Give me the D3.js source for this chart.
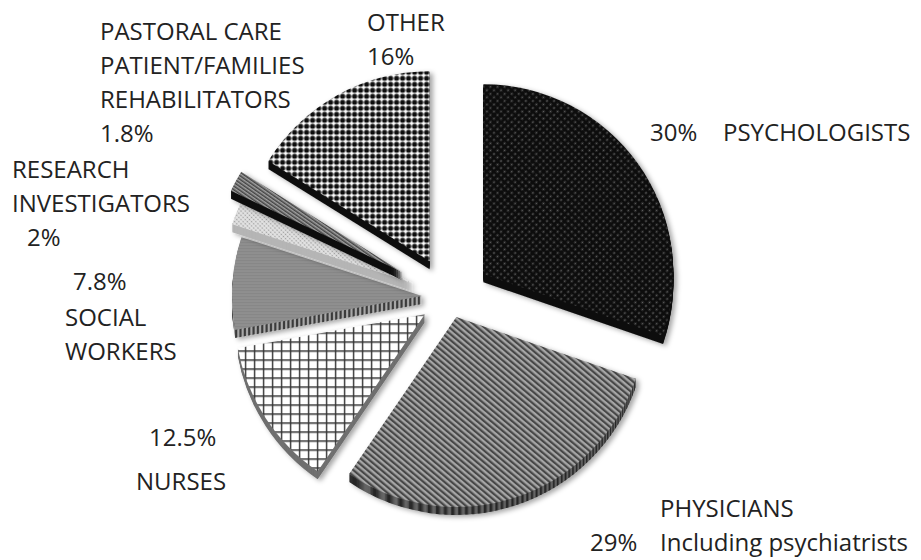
<html>
<style>
    body {
      margin: 0;
      background: #fff;
    }
    text {
      font: 24px "Open Sans", sans-serif;
      fill: #222;
    }
</style>
<body>
<script src="https://d3js.org/d3.v7.min.js"></script>
<script>
// data, clockwise from 12 o'clock
const categories = ["PSYCHOLOGISTS", "PHYSICIANS", "NURSES", "SOCIAL WORKERS",
                    "RESEARCH INVESTIGATORS", "PASTORAL CARE", "OTHER"]
const shares = [30, 29, 12.5, 7.8, 2, 1.8, 16]
const shareLabels = ["30%", "29%", "12.5%", "7.8%", "2%", "1.8%", "16%"]

// label blocks (text is placed by hand in the original chart)
const labelBlocks = [
    {lines: ["OTHER", shareLabels[6]], x: 367, y: 31},
    {lines: ["PASTORAL CARE", "PATIENT/FAMILIES", "REHABILITATORS", shareLabels[5]], x: 100, y: 40},
    {lines: ["RESEARCH", "INVESTIGATORS"], x: 12, y: 178},
    {lines: [shareLabels[4]], x: 27, y: 246},
    {lines: [shareLabels[0]], x: 650, y: 141},
    {lines: [categories[0]], x: 723, y: 141},
    {lines: [shareLabels[3]], x: 73, y: 290},
    {lines: ["SOCIAL", "WORKERS"], x: 65, y: 326},
    {lines: [shareLabels[2]], x: 149, y: 446},
    {lines: [categories[2]], x: 136, y: 490},
    {lines: ["PHYSICIANS", "Including psychiatrists"], x: 660, y: 517},
    {lines: [shareLabels[1]], x: 590, y: 551}
]

const width = 921, height = 560
const center = {x: 450, y: 298}, radius = 190, depth = 8, lineStep = 34
const explode = [41, 20, 30, 28, 40, 54, 42]
const faceFill = ["url(#psy)", "url(#phy)", "url(#nur)", "url(#soc)", "url(#res)", "url(#pas)", "url(#oth)"]
const wallFill = ["#0c0c0c", "url(#phyWall)", "#6f6f6f", "url(#socWall)", "#b5b5b5", "#111", "#111"]

const svg = d3.select("body").append("svg")
    .attr("width", width)
    .attr("height", height)

const defs = svg.append("defs")

const pattern = (id, w, h, transform) => defs.append("pattern")
    .attr("id", id)
    .attr("patternUnits", "userSpaceOnUse")
    .attr("width", w)
    .attr("height", h)
    .attr("patternTransform", transform || null)

let p = pattern("psy", 5, 5, "rotate(45)")
p.append("rect").attr("width", 5).attr("height", 5).attr("fill", "#101010")
p.append("circle").attr("cx", 2.5).attr("cy", 2.5).attr("r", 0.9).attr("fill", "#5e5e5e")

p = pattern("phy", 4.5, 4.5, "rotate(-50)")
p.append("rect").attr("width", 4.5).attr("height", 4.5).attr("fill", "#a6a6a6")
p.append("rect").attr("width", 2.2).attr("height", 4.5).attr("fill", "#474747")

p = pattern("phyWall", 4.5, 4.5, "rotate(-50)")
p.append("rect").attr("width", 4.5).attr("height", 4.5).attr("fill", "#666")
p.append("rect").attr("width", 2.2).attr("height", 4.5).attr("fill", "#262626")

p = pattern("nur", 9, 9)
p.append("rect").attr("width", 9).attr("height", 9).attr("fill", "#fff")
p.append("path").attr("d", "M0,0.7H9M0.7,0V9").attr("stroke", "#333").attr("stroke-width", 1.4)

p = pattern("soc", 3, 3)
p.append("rect").attr("width", 3).attr("height", 3).attr("fill", "#8f8f8f")
p.append("rect").attr("width", 3).attr("height", 1).attr("fill", "#868686")

p = pattern("socWall", 4, 4, "rotate(15)")
p.append("rect").attr("width", 4).attr("height", 4).attr("fill", "#a8a8a8")
p.append("rect").attr("width", 2).attr("height", 4).attr("fill", "#3a3a3a")

p = pattern("res", 3, 3, "rotate(45)")
p.append("rect").attr("width", 3).attr("height", 3).attr("fill", "#e2e2e2")
p.append("circle").attr("cx", 1.5).attr("cy", 1.5).attr("r", 0.8).attr("fill", "#9c9c9c")

p = pattern("pas", 3, 3, "rotate(-55)")
p.append("rect").attr("width", 3).attr("height", 3).attr("fill", "#a0a0a0")
p.append("rect").attr("width", 1.5).attr("height", 3).attr("fill", "#444")

p = pattern("oth", 6, 6)
p.append("rect").attr("width", 6).attr("height", 6).attr("fill", "#fff")
p.append("circle").attr("cx", 3).attr("cy", 3).attr("r", 2.6).attr("fill", "#111")

defs.append("filter").attr("id", "shadow")
    .attr("x", "-10%").attr("y", "-10%").attr("width", "130%").attr("height", "130%")
  .append("feDropShadow")
    .attr("dx", 3).attr("dy", 2)
    .attr("stdDeviation", 2.5)
    .attr("flood-color", "#000")
    .attr("flood-opacity", 0.35)

const pie = d3.pie().sort(null).value(d => d)
const arc = d3.arc().innerRadius(0).outerRadius(radius)

const slices = svg.append("g")
    .selectAll("g")
    .data(pie(shares))
    .join("g")
    .attr("transform", (d, i) => {
        const a = (d.startAngle + d.endAngle) / 2
        return `translate(${center.x + explode[i] * Math.sin(a)},${center.y - explode[i] * Math.cos(a)})`
    })
    .attr("filter", "url(#shadow)")

slices.each(function (d, i) {
    const g = d3.select(this)
    // side wall: the slice pushed down a few px
    g.selectAll("path.wall")
        .data(d3.range(depth, 0, -1))
        .join("path")
        .attr("class", "wall")
        .attr("d", arc(d))
        .attr("transform", k => `translate(0,${k})`)
        .attr("fill", wallFill[i])
    g.append("path")
        .attr("d", arc(d))
        .attr("fill", faceFill[i])
})

const labels = svg.append("g")
labelBlocks.forEach(b => {
    labels.append("text")
        .attr("x", b.x)
        .attr("y", b.y)
        .selectAll("tspan")
        .data(b.lines)
        .join("tspan")
        .attr("x", b.x)
        .attr("dy", (t, j) => j ? lineStep : 0)
        .text(t => t)
})
</script>
</body>
</html>
